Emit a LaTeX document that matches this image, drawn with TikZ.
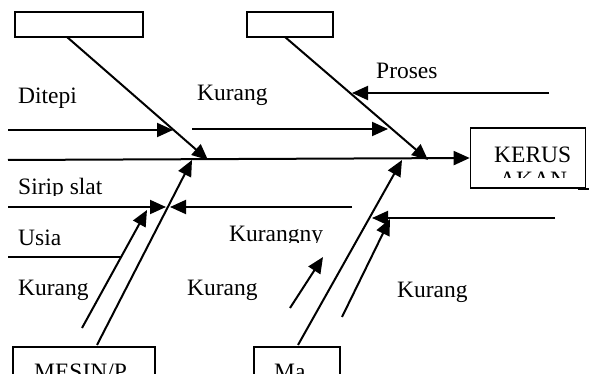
\documentclass[tikz,border=0pt]{standalone}
\usepackage{fontspec}
\setmainfont{Liberation Serif}
\usetikzlibrary{arrows.meta}
\begin{document}
\begin{tikzpicture}[x=1pt,y=-1pt,
  ln/.style={line width=2pt},
  arr/.style={line width=2pt,-{Triangle[length=16pt,width=14pt]}},
  bx/.style={line width=1.6pt},
  lbl/.style={anchor=base west,inner sep=0pt,font=\fontsize{23.5}{28}\selectfont}]
\useasboundingbox (0,0) rectangle (589,374);
\clip (0,0) rectangle (589,374);
\fill[white] (0,0) rectangle (589,374);
% boxes
\node[bx,draw,minimum width=128pt,minimum height=25pt,inner sep=0pt] (boxTL) at (79,24.5) {};
\node[bx,draw,minimum width=86pt,minimum height=25pt,inner sep=0pt] (boxTM) at (290,24.5) {};
\node[bx,draw,minimum width=115pt,minimum height=60pt,inner sep=0pt] (boxK) at (528,158) {};
\draw[bx] (578,189) -- (589,189);
\draw[bx] (13,380) |- (155,347) -- (155,380);
\draw[bx] (254,380) |- (340,347) -- (340,380);
% box texts
\node[lbl] (tK) at (494,163) {KERUS};
\begin{scope}
\clip (470,128) rectangle (589,178);
\node[lbl] (tA) at (499,188) {AKAN};
\end{scope}
\node[lbl] (tM) at (34,379) {MESIN/P};
\node[lbl] (tMa) at (274,379) {Ma};
% coordinates
\coordinate (sp0) at (8,160);
\coordinate (d1s) at (67,37);  \coordinate (d1e) at (208,160);
\coordinate (d2s) at (285,37); \coordinate (d2e) at (428,160);
\coordinate (d3s) at (97,345); \coordinate (d3e) at (192,160);
\coordinate (d4s) at (82,328); \coordinate (d4e) at (147,210);
\coordinate (d5s) at (298,345); \coordinate (d5e) at (402,160);
\coordinate (d6s) at (342,317); \coordinate (d6e) at (390,219);
\coordinate (sms) at (290,308); \coordinate (sme) at (323,257);
\coordinate (a1s) at (8,130);   \coordinate (a1e) at (173,130);
\coordinate (a2s) at (192,129); \coordinate (a2e) at (388,129);
\coordinate (a3s) at (549,93);  \coordinate (a3e) at (352,93);
\coordinate (a4s) at (8,207);   \coordinate (a4e) at (166,207);
\coordinate (a5s) at (352,207); \coordinate (a5e) at (170,207);
\coordinate (a6s) at (8,257);   \coordinate (a6e) at (121,257);
\coordinate (a7s) at (555,218); \coordinate (a7e) at (372,218);
% spine
\draw[arr] (sp0) -- (boxK.west);
% diagonals
\draw[arr] (d1s) -- (d1e);
\draw[arr] (d2s) -- (d2e);
\draw[arr] (d3s) -- (d3e);
\draw[arr] (d4s) -- (d4e);
\draw[arr] (d5s) -- (d5e);
\draw[arr] (d6s) -- (d6e);
\draw[arr] (sms) -- (sme);
% horizontals
\draw[arr] (a1s) -- (a1e);
\draw[arr] (a2s) -- (a2e);
\draw[arr] (a3s) -- (a3e);
\draw[arr] (a4s) -- (a4e);
\draw[arr] (a5s) -- (a5e);
\draw[ln] (a6s) -- (a6e);
\draw[arr] (a7s) -- (a7e);
% labels
\node[lbl] (l1) at (18,104) {Ditepi};
\node[lbl] (l2) at (197,101) {Kurang};
\node[lbl] (l3) at (376,79) {Proses};
\begin{scope}
\clip (0,170) rectangle (160,196);
\node[lbl] (l4) at (18,195) {Sirip slat};
\end{scope}
\node[lbl] (l5) at (18,245) {Usia};
\node[lbl] (l6) at (18,295) {Kurang};
\begin{scope}
\clip (220,215) rectangle (340,243);
\node[lbl] (l7) at (229,242) {Kurangny};
\end{scope}
\node[lbl] (l8) at (187,295) {Kurang};
\node[lbl] (l9) at (397,297) {Kurang};
\end{tikzpicture}
\end{document}
